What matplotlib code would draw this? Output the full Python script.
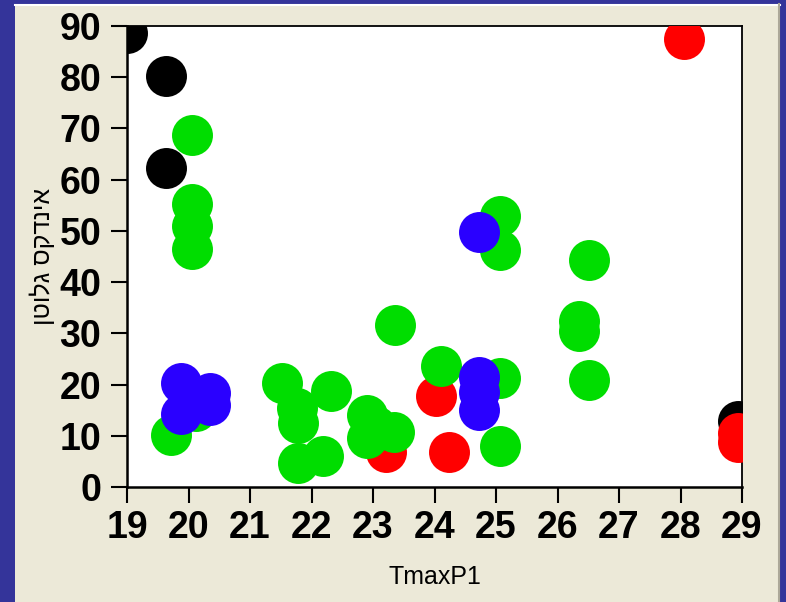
import matplotlib
matplotlib.use("Agg")
import matplotlib.pyplot as plt
from matplotlib.patches import Rectangle
from matplotlib.lines import Line2D

# Points grouped by colour class
black_x = [19.0, 19.63, 19.63, 28.93]
black_y = [88.7, 80.3, 62.3, 12.9]

red_x = [28.06, 24.02, 24.24, 23.21, 28.93, 28.93]
red_y = [87.4, 17.8, 6.8, 6.8, 10.5, 8.7]

green_x = [20.05, 20.05, 20.05, 20.05, 19.72, 20.12,
           21.52, 22.31, 21.76, 21.78, 21.78, 22.19,
           22.9, 22.9, 23.05, 23.34, 23.35,
           24.1, 25.07, 25.07, 25.07, 25.07,
           26.52, 26.35, 26.35, 26.52]
green_y = [68.8, 55.3, 51.0, 46.4, 10.2, 14.8,
           20.3, 18.8, 15.5, 12.5, 4.7, 6.0,
           14.0, 9.5, 12.0, 10.8, 31.7,
           23.7, 52.9, 46.3, 21.3, 8.1,
           44.3, 32.5, 30.5, 20.9]

blue_x = [19.88, 19.88, 20.35, 20.35, 24.72, 24.72, 24.72, 24.72]
blue_y = [20.3, 14.3, 18.3, 16.0, 49.8, 21.5, 18.5, 15.0]

x_ticks = [19, 20, 21, 22, 23, 24, 25, 26, 27, 28, 29]
y_ticks = [0, 10, 20, 30, 40, 50, 60, 70, 80, 90]

x_label = "TmaxP1"
y_label = "אינדקס גלוטן"

BORDER = "#34349A"
PANEL = "#ECE9D8"

W, H = 786, 602
fig = plt.figure(figsize=(W / 100, H / 100), dpi=100, facecolor=BORDER)

# window-style panel behind the axes
fig.patches.append(Rectangle((15 / W, 0), (780 - 15) / W, 1 - 4 / H,
                             transform=fig.transFigure, facecolor=PANEL,
                             edgecolor="none", zorder=-10))
fig.lines.append(Line2D([15 / W, 780 / W], [1 - 5 / H, 1 - 5 / H],
                        transform=fig.transFigure, color="white", lw=1.5,
                        zorder=-5))
fig.lines.append(Line2D([778.5 / W, 778.5 / W], [0, 1 - 4 / H],
                        transform=fig.transFigure, color="#ACA899", lw=1.5,
                        zorder=-5))

ax = fig.add_axes([127 / W, 1 - 487 / H, (742 - 127) / W, (487 - 26) / H])
ax.set_zorder(1)
ax.set_facecolor("white")

msize = 870
ax.scatter(black_x, black_y, s=msize, c="black", linewidths=0, zorder=2)
ax.scatter(red_x, red_y, s=msize, c="#FF0000", linewidths=0, zorder=3)
ax.scatter(green_x, green_y, s=msize, c="#00DD00", linewidths=0, zorder=4)
ax.scatter(blue_x, blue_y, s=msize, c="#2A00FF", linewidths=0, zorder=5)

ax.set_xlim(19, 29)
ax.set_ylim(0, 90)
ax.set_xticks(x_ticks)
ax.set_yticks(y_ticks)

tick_font = dict(family=["Liberation Sans", "DejaVu Sans"], weight="bold", size=27)
ax.set_xticklabels([str(t) for t in x_ticks], fontdict=tick_font)
ax.set_yticklabels([str(t) for t in y_ticks], fontdict=tick_font)
ax.tick_params(axis="both", direction="out", length=11.5, width=1.5,
               color="black", pad=5)
ax.tick_params(axis="y", pad=7)

for side in ["left", "bottom"]:
    ax.spines[side].set_linewidth(1.8)
for side in ["top", "right"]:
    ax.spines[side].set_linewidth(1.3)
for sp in ax.spines.values():
    sp.set_color("black")

ax.set_xlabel(x_label, family=["Liberation Sans", "DejaVu Sans"], size=18,
              labelpad=14)
# Hebrew is right-to-left: pass it in visual order
ax.set_ylabel(y_label[::-1], family=["Liberation Sans", "DejaVu Sans"],
              size=18, labelpad=3)

fig.savefig("out.png", dpi=100, facecolor=BORDER)
